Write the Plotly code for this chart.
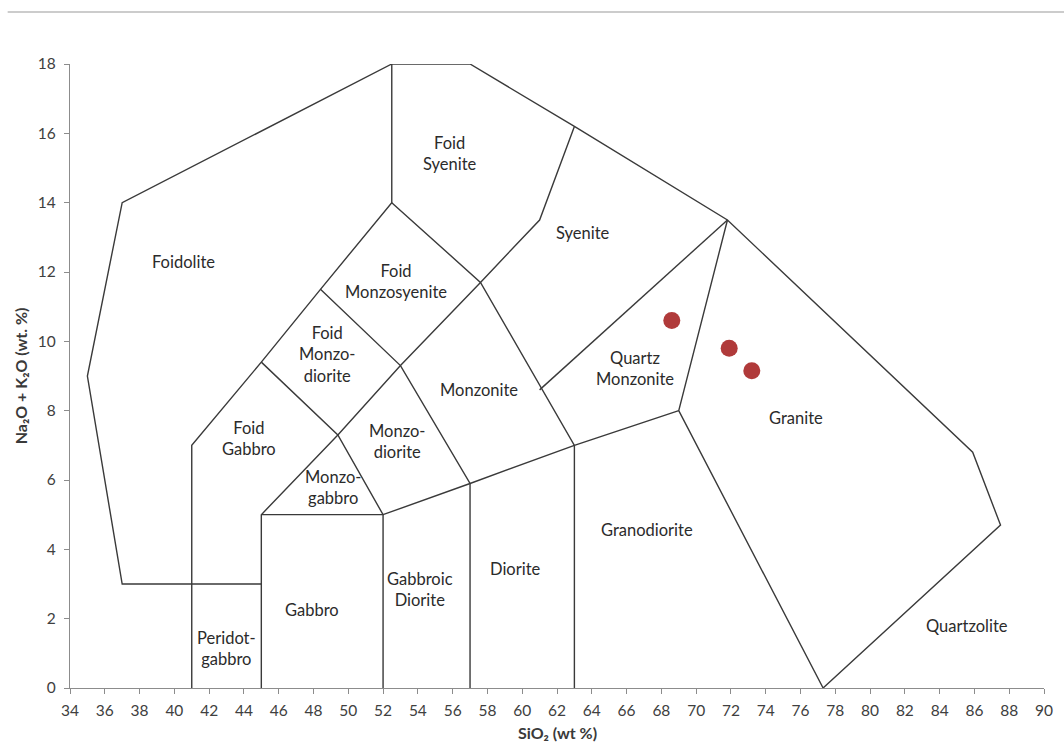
import plotly.graph_objects as go

# ---- Data -------------------------------------------------------------
# Field boundary polylines (SiO2, Na2O+K2O)
outer_x = [45, 37, 35, 37, 52.5, 57, 63, 71.8, 85.9, 87.5, 77.3, 69, 71.8]
outer_y = [3, 3, 9, 14, 18, 18, 16.2, 13.5, 6.8, 4.7, 0, 8, 13.5]
foid_left_x = [52.5, 52.5, 48.4, 45, 41, 41]
foid_left_y = [18, 14, 11.5, 9.4, 7, 0]
monzo_right_x = [52.5, 57.6, 63, 63]
monzo_right_y = [14, 11.7, 7, 0]
mid_diag_x = [63, 61, 57.6, 53, 49.4, 45, 45]
mid_diag_y = [16.2, 13.5, 11.7, 9.3, 7.3, 5, 0]
diag2_x = [48.4, 53, 57, 57]
diag2_y = [11.5, 9.3, 5.9, 0]
diag3_x = [45, 49.4, 52, 52]
diag3_y = [9.4, 7.3, 5, 0]
base_x = [45, 52, 57, 63, 69]
base_y = [5, 5, 5.9, 7, 8]
qmz_x = [61, 71.8]
qmz_y = [8.6, 13.5]

# Sample points
sample_sio2 = [68.6, 71.9, 73.2]
sample_alk = [10.6, 9.8, 9.15]

# Field labels
field_names = ["Foid<br>Syenite", "Foidolite", "Foid<br>Monzosyenite", "Syenite",
               "Foid<br>Monzo-<br>diorite", "Quartz<br>Monzonite", "Monzonite",
               "Foid<br>Gabbro", "Monzo-<br>diorite", "Granite", "Monzo-<br>gabbro",
               "Granodiorite", "Diorite", "Gabbroic<br>Diorite", "Gabbro",
               "Peridot-<br>gabbro", "Quartzolite"]
field_x = [55.85, 40.5, 52.75, 63.5, 48.8, 66.5, 57.5, 44.3, 52.8, 75.75, 49.1,
           67.2, 59.6, 54.1, 47.9, 43.0, 85.6]
field_y = [15.43, 12.3, 11.74, 13.12, 9.63, 9.23, 8.6, 7.2, 7.12, 7.79, 5.77,
           4.56, 3.43, 2.83, 2.25, 1.15, 1.79]

x_ticks = list(range(34, 91, 2))
y_ticks = list(range(0, 19, 2))

# ---- Figure -----------------------------------------------------------
FONT = "Lato, 'Open Sans', sans-serif"
LINE = dict(color="#3a3a3a", width=1.4)

fig = go.Figure()
for xs, ys in [(outer_x, outer_y), (foid_left_x, foid_left_y),
               (monzo_right_x, monzo_right_y), (mid_diag_x, mid_diag_y),
               (diag2_x, diag2_y), (diag3_x, diag3_y), (base_x, base_y),
               (qmz_x, qmz_y)]:
    fig.add_trace(go.Scatter(x=xs, y=ys, mode="lines", line=LINE,
                             hoverinfo="skip", showlegend=False))

fig.add_trace(go.Scatter(x=sample_sio2, y=sample_alk, mode="markers",
                         marker=dict(size=17, color="#b03a3a"),
                         showlegend=False))

for name, xx, yy in zip(field_names, field_x, field_y):
    fig.add_annotation(x=xx, y=yy, text=name, showarrow=False,
                       font=dict(family=FONT, size=16.5, color="#2b2b2b"))

fig.add_annotation(x=53.67, y=18.69, text="Tawite/Urtite/Italite",
                   showarrow=False, font=dict(family=FONT, size=16.5, color="#2b2b2b"))

fig.add_annotation(xref="paper", yref="paper", x=0.5, y=-0.072,
                   text="<b>SiO₂ (wt %)</b>", showarrow=False,
                   yanchor="middle",
                   font=dict(family=FONT, size=16, color="#3a3a3a"))
fig.add_annotation(xref="paper", yref="paper", x=-0.051, y=0.5,
                   text="<b>Na₂O + K₂O (wt. %)</b>", showarrow=False,
                   textangle=-90, xanchor="center",
                   font=dict(family=FONT, size=16, color="#3a3a3a"))

# top page rule
fig.add_shape(type="line", xref="paper", yref="paper",
              x0=-0.064, x1=1.03, y0=1.0833, y1=1.0833,
              line=dict(color="#9a9a9a", width=1.2))

axis_common = dict(showgrid=False, zeroline=False, showline=True,
                   linecolor="#8c8c8c", linewidth=1.2, ticks="outside",
                   ticklen=5, tickcolor="#8c8c8c",
                   tickfont=dict(family=FONT, size=15.5, color="#404040"))

fig.update_xaxes(range=[34, 90], tickvals=x_ticks, ticklabelstandoff=3,
                 **axis_common)
fig.update_yaxes(range=[0, 18], tickvals=y_ticks, ticklabelstandoff=5,
                 **axis_common)

fig.update_layout(width=1064, height=743,
                  margin=dict(l=70, r=20, t=64, b=55),
                  plot_bgcolor="white", paper_bgcolor="white",
                  showlegend=False)

fig.write_html("out.html")
